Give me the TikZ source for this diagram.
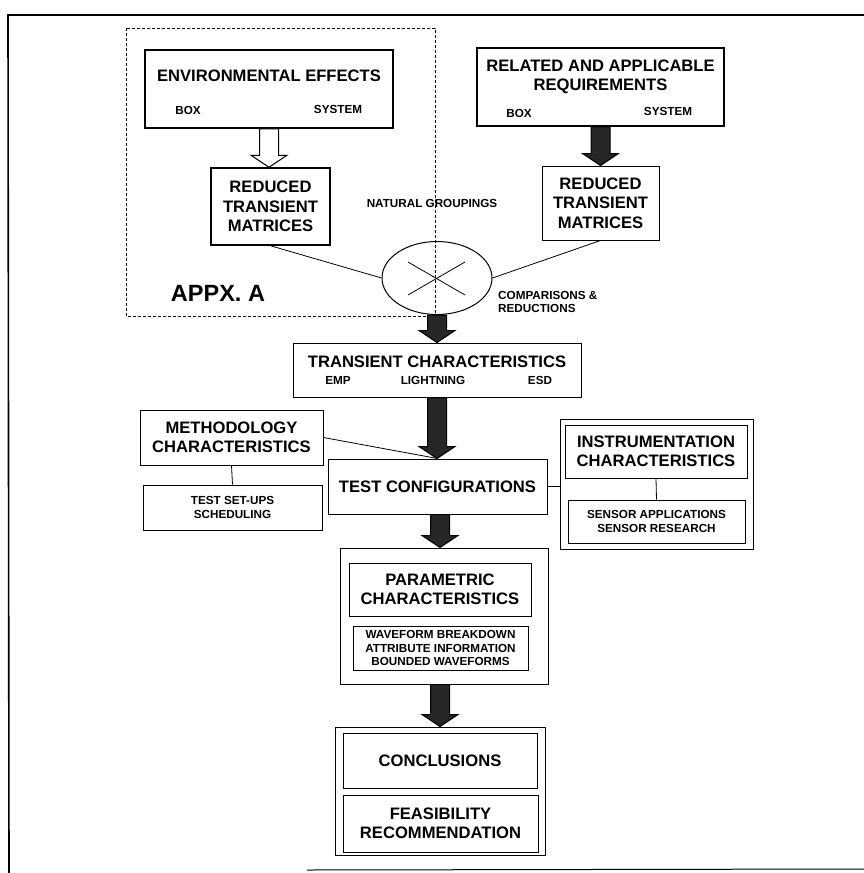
\documentclass[tikz,border=0pt]{standalone}
\usepackage{fontspec}
\setmainfont{Liberation Sans}
\usetikzlibrary{calc, shapes.geometric}

\tikzset{
  box/.style={draw, line width=1pt, align=center, inner sep=2pt, font=\fontsize{16.6}{19.5}\selectfont\bfseries},
  subbox/.style={draw, line width=0.8pt, align=center, inner sep=2pt, font=\fontsize{11.7}{13.6}\selectfont\bfseries},
  lbl/.style={font=\fontsize{11.7}{13.6}\selectfont\bfseries, inner sep=0pt},
  link/.style={line width=0.8pt},
}

% block arrow from node #2 to node #3
\newcommand\blockarrow[3][fill=black!85]{%
  \draw[line width=1pt, #1] let \p1=(#2), \p2=(#3) in
    (\x1-9.5pt,\y1) -- (\x1+9.5pt,\y1) -- (\x1+9.5pt,\y2+12pt) -- (\x1+18pt,\y2+12pt)
    -- (\x1,\y2) -- (\x1-18pt,\y2+12pt) -- (\x1-9.5pt,\y2+12pt) -- cycle;}

\begin{document}
\begin{tikzpicture}[x=1pt, y=-1pt]
  \useasboundingbox (0,0) rectangle (864,873);

  % outer frame
  \draw[line width=1.6pt] (864,15) -- (8,15) -- (9,873);
  \draw[line width=1pt] (307,870) -- (864,869);

  % appendix A
  \draw[densely dashed, line width=0.7pt] (126,28) rectangle (435,316);
  \node[font=\fontsize{23.5}{26}\selectfont\bfseries] (appx) at (218,293) {APPX. A};

  \node[box, line width=1.5pt, minimum width=248, minimum height=78] (env) at (269,89) {};
  \node[box, draw=none] (envt) at (269,76) {ENVIRONMENTAL EFFECTS};
  \node[lbl] (envbox) at (188,110) {BOX};
  \node[lbl] (envsys) at (338,109) {SYSTEM};

  \node[box, line width=1.5pt, minimum width=119, minimum height=77] (red1) at (270.5,206.5)
    {REDUCED\\TRANSIENT\\MATRICES};

  % requirements
  \node[box, line width=1.8pt, minimum width=247, minimum height=78] (req) at (600.5,87) {};
  \node[box, draw=none] (reqt) at (600.5,77) {RELATED AND APPLICABLE\\REQUIREMENTS};
  \node[lbl] (reqbox) at (519,113) {BOX};
  \node[lbl] (reqsys) at (668,111) {SYSTEM};

  \node[box, minimum width=117, minimum height=74] (red2) at (600.5,203)
    {REDUCED\\TRANSIENT\\MATRICES};

  % groupings
  \node[lbl] (nat) at (432,203) {NATURAL GROUPINGS};
  \node[draw, ellipse, line width=1pt, minimum width=110, minimum height=73] (grp) at (437,278) {};
  \draw[link] ($(grp.center)+(-29,-16)$) -- ($(grp.center)+(28,17)$);
  \draw[link] ($(grp.center)+(-29,17)$) -- ($(grp.center)+(28,-16)$);
  \node[lbl, anchor=west, align=left] (comp) at (498,302) {COMPARISONS \&\\REDUCTIONS};

  \draw[link] (red1.south) -- (grp.west);
  \draw[link] (red2.south) -- (grp.east);

  % transient characteristics
  \node[box, minimum width=288, minimum height=54] (trans) at (437,370) {};
  \node[box, draw=none] (transt) at (437,362) {TRANSIENT CHARACTERISTICS};
  \node[lbl] (emp) at (338,380) {EMP};
  \node[lbl] (lgt) at (433,380) {LIGHTNING};
  \node[lbl] (esd) at (540,380) {ESD};

  % methodology
  \node[box, minimum width=183, minimum height=55] (meth) at (231.5,437.5)
    {METHODOLOGY\\CHARACTERISTICS};
  \node[subbox, minimum width=179, minimum height=45] (setup) at (232.5,507.5)
    {TEST SET-UPS\\SCHEDULING};

  \node[box, minimum width=219, minimum height=55] (test) at (437.5,486.5) {TEST CONFIGURATIONS};

  % instrumentation
  \node[draw, line width=1pt, minimum width=193, minimum height=130] (instr) at (656.5,484) {};
  \node[box, minimum width=182, minimum height=53] (inst) at (656,451.5)
    {INSTRUMENTATION\\CHARACTERISTICS};
  \node[subbox, minimum width=177, minimum height=43] (sens) at (656.5,521.5)
    {SENSOR APPLICATIONS\\SENSOR RESEARCH};

  % parametric
  \node[draw, line width=1pt, minimum width=208, minimum height=136] (par) at (444,616) {};
  \node[box, minimum width=182, minimum height=53] (part) at (440,589.5)
    {PARAMETRIC\\CHARACTERISTICS};
  \node[subbox, minimum width=175, minimum height=44] (wave) at (440.5,648)
    {WAVEFORM BREAKDOWN\\ATTRIBUTE INFORMATION\\BOUNDED WAVEFORMS};

  % conclusions
  \node[draw, line width=1pt, minimum width=210, minimum height=128] (con) at (440,791) {};
  \node[box, minimum width=194, minimum height=55] (cont) at (440,760.5) {CONCLUSIONS};
  \node[box, minimum width=195, minimum height=57] (feas) at (440.5,823.5)
    {FEASIBILITY\\RECOMMENDATION};

  \draw[link] (meth.east) -- (test.north);
  \draw[link] (meth.south) -- (setup.north);
  \draw[link] (test.east) -- (test.east -| instr.west);
  \draw[link] (inst.south) -- (sens.north);

  % block arrows
  \blockarrow[fill=white]{env.south}{red1.north}
  \blockarrow{req.south}{red2.north}
  \blockarrow{grp.south}{trans.north}
  \blockarrow{trans.south}{test.north}
  \blockarrow{test.south -| part.south}{par.north -| part.south}
  \blockarrow{par.south -| part.south}{con.north}
\end{tikzpicture}
\end{document}
